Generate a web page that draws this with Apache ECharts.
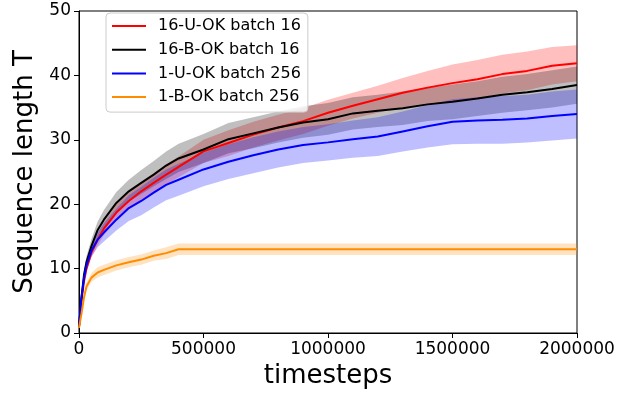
<!DOCTYPE html>
<html>
<head>
<meta charset="utf-8">
<script src="https://cdn.jsdelivr.net/npm/echarts@6/dist/echarts.min.js"></script>
<style>html,body{margin:0;padding:0;background:#fff}#c{width:625px;height:394px}</style>
</head>
<body>
<div id="c"></div>
<script>
const timesteps = [0,10000,20000,30000,50000,75000,100000,150000,200000,250000,300000,350000,400000,500000,600000,700000,800000,900000,1000000,1100000,1200000,1300000,1400000,1500000,1600000,1700000,1800000,1900000,2000000];

const seriesNames = ['16-U-OK batch 16','16-B-OK batch 16','1-U-OK batch 256','1-B-OK batch 256'];

const red_mean = [1,5,8,10,12.5,14.5,16.2,18.7,20.5,22,23.3,24.6,25.8,28.2,29.5,30.8,31.9,32.9,34.2,35.3,36.3,37.3,38.1,38.8,39.4,40.2,40.7,41.5,41.9];
const red_lo   = [1,4.7,7.5,9.4,11.8,13.6,15.2,17.5,19.2,20.6,21.8,23,24.2,26.4,27.5,28.8,29.9,30.9,32.2,33.3,34.2,35,35.5,35.9,36.4,37.2,37.7,38.6,39.1];
const red_hi   = [1,5.3,8.5,10.6,13.2,15.4,17.2,19.9,21.8,23.4,24.8,26.2,27.4,30,31.5,32.8,33.9,34.9,36.2,37.3,38.4,39.6,40.7,41.7,42.4,43.2,43.7,44.4,44.7];

const black_mean = [1,5.5,9,11,13.5,16,17.6,20.2,22,23.3,24.6,26,27.1,28.5,30.1,31,31.9,32.7,33.2,34.1,34.5,34.9,35.5,35.9,36.4,37,37.4,37.9,38.5];
const black_lo   = [1,5.1,8.3,10.1,12.4,14.7,16.2,18.7,20.4,21.6,22.8,23.9,25,26.4,27.9,28.7,29.6,30.3,30.8,31.6,32,32.3,32.9,33.2,33.7,34.2,34.6,35,35.6];
const black_hi   = [1,5.9,9.7,11.9,14.6,17.3,19.1,21.9,23.8,25.3,26.7,28.2,29.4,30.9,32.6,33.5,34.4,35.2,35.7,36.6,37,37.5,38.1,38.6,39.1,39.8,40.2,40.8,41.4];

const blue_mean = [1,5.5,8.5,10.5,12.8,14.5,15.6,17.6,19.4,20.5,21.8,23,23.8,25.4,26.6,27.6,28.5,29.2,29.6,30.1,30.5,31.3,32.1,32.8,33,33.1,33.3,33.7,34];
const blue_lo   = [1,5.2,7.9,9.7,11.8,13.3,14.2,15.9,17.4,18.3,19.5,20.6,21.3,22.8,23.9,24.8,25.7,26.4,26.8,27.2,27.5,28.2,28.8,29.3,29.4,29.4,29.6,29.9,30.2];
const blue_hi   = [1,5.8,9.1,11.3,13.8,15.7,17,19.3,21.4,22.7,24.1,25.4,26.3,28,29.3,30.4,31.3,32,32.4,33,33.5,34.4,35.4,36.3,36.6,36.8,37,37.5,37.8];

const orange_mean = [0.8,3,5.5,7.2,8.6,9.4,9.8,10.5,11,11.4,12,12.4,13,13,13,13,13,13,13,13,13,13,13,13,13,13,13,13,13];
const orange_lo   = [0.8,2.7,5,6.6,7.9,8.6,9,9.7,10.2,10.6,11.2,11.5,12.1,12.1,12.1,12.1,12.1,12.1,12.1,12.1,12.1,12.1,12.1,12.1,12.1,12.1,12.1,12.1,12.1];
const orange_hi   = [0.8,3.3,6,7.8,9.3,10.2,10.6,11.3,11.8,12.2,12.8,13.3,13.9,13.9,13.9,13.9,13.9,13.9,13.9,13.9,13.9,13.9,13.9,13.9,13.9,13.9,13.9,13.9,13.9];

const xTicks = [0,500000,1000000,1500000,2000000];
const yTicks = [0,10,20,30,40,50];

const colors = ['#ff0000','#000000','#0000ff','#ff8c00'];
const bandColors = ['rgba(255,0,0,0.25)','rgba(0,0,0,0.25)','rgba(0,0,255,0.25)','rgba(255,140,0,0.25)'];
const means = [red_mean, black_mean, blue_mean, orange_mean];
const los = [red_lo, black_lo, blue_lo, orange_lo];
const his = [red_hi, black_hi, blue_hi, orange_hi];

const FONT = 'DejaVu Sans';
const series = [];
for (let i = 0; i < 4; i++) {
  series.push({
    name: 'band_' + i, type: 'custom', silent: true, z: 1 + i,
    data: timesteps.map((t, k) => [t, los[i][k], his[i][k]]),
    encode: {x: 0, y: [1, 2]},
    renderItem: function (params, api) {
      if (params.dataIndex !== 0) return null;
      const pts = [];
      for (let k = 0; k < timesteps.length; k++) pts.push(api.coord([timesteps[k], his[i][k]]));
      for (let k = timesteps.length - 1; k >= 0; k--) pts.push(api.coord([timesteps[k], los[i][k]]));
      return {type: 'polygon', shape: {points: pts}, style: {fill: bandColors[i], stroke: null}};
    }
  });
}
for (let i = 0; i < 4; i++) {
  series.push({
    name: seriesNames[i], type: 'line', symbol: 'none', z: 10 + i,
    lineStyle: {color: colors[i], width: 2},
    itemStyle: {color: colors[i]},
    data: timesteps.map((t, k) => [t, means[i][k]])
  });
}

const chart = echarts.init(document.getElementById('c'), null, {renderer: 'canvas'});
chart.setOption({
  animation: false,
  backgroundColor: '#ffffff',
  grid: {left: 79, right: 48, top: 11, bottom: 61, show: true, borderColor: '#000', borderWidth: 1, backgroundColor: 'transparent'},
  legend: {
    data: seriesNames.map(n => ({name: n, icon: 'rect'})),
    orient: 'vertical', left: 106, top: 13,
    itemWidth: 34, itemHeight: 2, itemGap: 7.7,
    padding: [5, 7, 7, 6],
    borderColor: '#cccccc', borderWidth: 1, borderRadius: 4,
    backgroundColor: 'rgba(255,255,255,0.8)',
    textStyle: {fontFamily: FONT, fontSize: 16, color: '#000', padding: [0, 0, 0, 7]}
  },
  xAxis: {
    type: 'value', min: xTicks[0], max: xTicks[xTicks.length - 1], interval: xTicks[1] - xTicks[0],
    name: 'timesteps', nameLocation: 'middle', nameGap: 30,
    nameTextStyle: {fontFamily: FONT, fontSize: 26, color: '#000'},
    axisLine: {show: true, lineStyle: {color: '#000', width: 1}},
    axisTick: {show: true, length: 5, lineStyle: {color: '#000'}},
    axisLabel: {fontFamily: FONT, fontSize: 17, color: '#000', margin: 8, formatter: v => String(v)},
    splitLine: {show: false}
  },
  yAxis: {
    type: 'value', min: yTicks[0], max: yTicks[yTicks.length - 1], interval: yTicks[1] - yTicks[0],
    name: 'Sequence length T', nameLocation: 'middle', nameGap: 39,
    nameTextStyle: {fontFamily: FONT, fontSize: 26, color: '#000'},
    axisLine: {show: true, lineStyle: {color: '#000', width: 1}},
    axisTick: {show: true, length: 5, lineStyle: {color: '#000'}},
    axisLabel: {fontFamily: FONT, fontSize: 17, color: '#000', margin: 8},
    splitLine: {show: false}
  },
  series: series
});
</script>
</body>
</html>
